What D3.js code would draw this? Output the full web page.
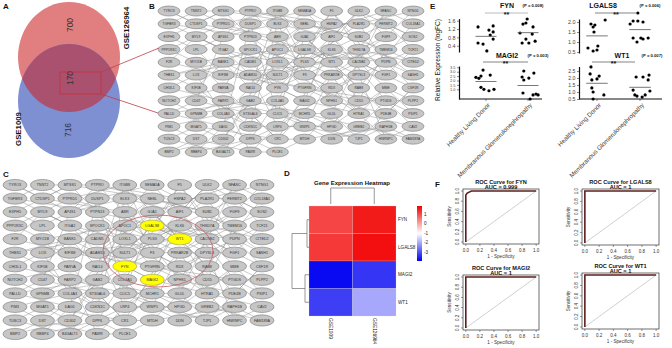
<!DOCTYPE html>
<html><head><meta charset="utf-8">
<script src="https://cdn.jsdelivr.net/npm/d3@7"></script>
<style>body{margin:0;background:#fff}svg{display:block;font-family:"Liberation Sans",Arial,sans-serif}</style>
</head><body><svg id="c" width="672" height="348"></svg>
<script>
// ---------------- DATA ----------------
const vennSets = ["GSE126964", "GSE1009"];
const vennCounts = [700, 170, 716]; // GSE126964 only, shared, GSE1009 only

const netColumns = [
 ["TYRO3","TGFBR3","EXPH5","PPP1R3C","F2R","THBS1","CHI3L1","NOTCH2","PALLD","PIM1","TUSC3","BMP2"],
 ["TNNT2","CTDSP1","MYL9","LPL","MYO1B","LOX","KIF5B","CD47","GPNMB","MGAT5","DST","RBBP4"],
 ["MTSS1","PTPRD1","AP4S1","ITGA2","BANK1","EIF3M","PARVA","FARP2","COL4A3","DAG1","CD302","B4GALT1"],
 ["PTPRO","DUSP1","PTPN13","SPOCK1","CADM1","ADAM10","RAI14","GAB2","ST3GAL6","CDKN1C","DPP6","PAWR"],
 ["ITGB8","ELK3","ABR","APOC1","LOXL1","SULT1","FYN","COL4A5","CLIC5","LRP4","CR1","PLCE1"],
 ["SEMA5A","NEBL","GJA1","LGALS8","PLS3","F3","PTGFRN","MAGI2","MCHR1","WWP1","MTDH"],
 ["F5","HSPA2","AIF1","KLK6","WT1","PRKAR2B","RDX","NPHS1","GLUL","HPGD","DDN"],
 ["ULK2","PLA2R1","SUB1","THSD7A","CACNB2","DPYSL3","RAB8","CD55","HTRA1","GREB2","TJP1"],
 ["NFASC","FERMT2","FGF9","TMEM16","PDPN","FGF1","MME","PTGDS","PDE4B","RAPH1B","HNRNPC"],
 ["NTNG1","COL18A1","SOS2","TCF21","CITED2","SASH1","CSF1R","PLPP2","PSIP1","CAV2","FAM189A"]
];
const netEdges = ("a1b2 a1c3 a2b1 a2c4 a3b4 a4c2 a4b5 a5b3 a5c6 a6b7 a6c5 a7b6 a7c8 a8b9 a8c7 a9b8 a9c10 a10b11 a11b10 a11c12 a12b11 a12c11 a3c1 a6d5 a2d3 a9d8 a10c9 " +
 "b1c2 b2c1 b3c4 b4d2 b5c7 b6d4 b7c5 b8d9 b9c8 b10c11 b11d12 b12c10 b1d1 b3d5 b5e4 b7d10 b9e8 b2e3 b6c9 b10e11 b12d11 b4c6 b8c3 b11e7 " +
 "c1d3 c2e1 c3d1 c4e5 c5d7 c6e6 c7d4 c8e9 c9d10 c10e12 c11d8 c12e10 c1f2 c3e2 c4d6 c6f7 c7e11 c8d12 c9f3 c10d2 c11e4 c12d9 c2f4 c5f8 c6g5 " +
 "d1e3 d2f1 d3e6 d4f5 d5e7 d6f3 d7e1 d8f9 d9e11 d10f10 d11e8 d12e12 d1g2 d2e9 d3f6 d4g7 d5f2 d6e10 d7g4 d8e5 d9g9 d10e2 d11f11 d12f8 d3h5 d6h8 d1h3 " +
 "e1f5 e2g3 e3f1 e4g6 e5f7 e6h4 e7f8 e8g1 e9f3 e10g10 e11f9 e12f11 e1h7 e2f6 e3g8 e4f2 e5h9 e6g2 e7h1 e8f10 e9g11 e10h6 e11g4 e4i5 e7i3 e9h11 e6f4 e5g5 " +
 "f1g2 f2h3 f3g5 f4h6 f5g4 f6h1 f7g8 f8h9 f9g10 f10h11 f11g9 f1h5 f2i4 f3h7 f4g1 f5h2 f6g7 f7i8 f8g3 f9h10 f10g6 f11i10 f4g5 f8g6 f6i6 f3i1 " +
 "g1h4 g2i2 g3h1 g4i5 g5h8 g6i3 g7h6 g8i9 g9h11 g10i7 g11h10 g1i6 g2h2 g3i8 g4h3 g5i4 g6h9 g7i11 g8h5 g9i1 g10h7 g11i10 g4j7 g6j3 " +
 "h1i3 h2j1 h3i2 h4j5 h5i6 h6j4 h7i9 h8j8 h9i7 h10j11 h11i10 h1j3 h2i5 h3j6 h4i1 h5j9 h6i11 h7j2 h8i4 h9j10 h10i8 h11j7 " +
 "i1j2 i2j3 i3j1 i4j5 i5j6 i6j4 i7j8 i8j9 i9j7 i10j11 i11j10 i2j4 i5j7 i8j10").split(" ");
const hubGenes = ["FYN", "LGALS8", "MAGI2", "WT1"];

const hmGenes = ["FYN", "LGALS8", "MAGI2", "WT1"];
const hmSets = ["GSE1009", "GSE126964"];
const hmGSE1009 = [1.08, 1.22, -3.8, -3.2];
const hmGSE126964 = [1.56, 1.68, -3.3, -2.0];
const hmTicks = [1, 0, -1, -2, -3];

const groups = ["Healthy Living Donor", "Membranous Glomerulonephropathy"];
const fynHLD = [1.30, 1.35, 1.15, 1.06, 0.91, 0.72, 0.53, 0.48, 0.15];
const fynHLDj = [-0.19, 0.17, 0.07, 0.17, 0.10, 0.17, -0.19, -0.07, 0.02];
const fynMGN = [1.44, 1.68, 1.49, 1.30, 1.01, 0.96, 0.72, 0.53, 0.62, 0.53];
const fynMGNj = [-0.12, -0.02, -0.05, 0.12, -0.19, 0.10, -0.05, 0.02, 0.17, -0.14];
const magi2HLD = [3.19, 2.36, 2.51, 2.62, 2.25, 1.23, 1.00, 0.84, 1.00];
const magi2HLDj = [-0.07, -0.24, -0.12, 0.10, -0.17, -0.12, -0.05, 0.07, 0.19];
const magi2MGN = [3.08, 2.85, 2.40, 2.28, 2.06, 0.58, 0.36, 0.47, 0.36, -0.10];
const magi2MGNj = [-0.10, 0.14, -0.14, 0.02, -0.10, -0.12, 0.12, 0.19, 0.24, 0.05];
const lgals8HLD = [1.90, 2.10, 1.85, 1.75, 1.50, 0.70, 0.55, 0.60, 0.80];
const lgals8HLDj = [-0.14, 0.19, -0.05, -0.09, -0.07, -0.21, -0.09, 0.00, 0.02];
const lgals8MGN = [2.45, 2.05, 2.05, 2.00, 1.90, 1.20, 1.20, 1.15, 1.20, 1.00];
const lgals8MGNj = [-0.05, -0.16, -0.05, 0.07, -0.23, -0.16, 0.02, 0.07, 0.19, -0.07];
const wt1HLD = [2.79, 2.29, 2.14, 1.93, 1.86, 1.29, 1.00, 0.79, 0.50];
const wt1HLDj = [-0.14, -0.16, 0.05, 0.00, -0.12, -0.12, -0.09, 0.16, -0.09];
const wt1MGN = [2.07, 2.07, 2.21, 1.86, 1.14, 0.79, 0.64, 0.79, 1.07, 0.71];
const wt1MGNj = [-0.09, 0.07, 0.21, 0.19, -0.16, -0.12, 0.05, 0.12, 0.23, -0.07];
const pValues = ["0.008", "0.003", "0.006", "0.007"]; // FYN, MAGI2, LGALS8, WT1

const rocGenes = ["FYN", "LGALS8", "MAGI2", "WT1"];
const rocAUC = ["0.999", "1", "1", "1"];
const rocFYN = [[0, 0], [0, 0.92], [0.02, 0.96], [0.08, 1], [1, 1]];
const rocLGALS8 = [[0, 0], [0, 1], [1, 1]];
const rocMAGI2 = [[0, 0], [0, 1], [1, 1]];
const rocWT1 = [[0, 0], [0, 1], [1, 1]];
const rocTicks = [0, 0.2, 0.4, 0.6, 0.8, 1];

// ---------------- DRAWING ----------------
const svg = d3.select("#c");
svg.append("rect").attr("width", 672).attr("height", 348).attr("fill", "#fff");
const defs = svg.append("defs");

function letter(t, x, y) {
  svg.append("text").attr("x", x).attr("y", y).attr("font-size", 8).attr("font-weight", "bold").attr("fill", "#111").text(t);
}
letter("A", 3, 9); letter("B", 149, 9); letter("C", 3, 177); letter("D", 284, 176); letter("E", 430, 9); letter("F", 435, 187);

// ---- A: Venn ----
const red = {cx: 69, cy: 57, rx: 51, ry: 55};
const blue = {cx: 69, cy: 101, rx: 51, ry: 57};
defs.append("clipPath").attr("id", "clipBlue").append("ellipse").attr("cx", blue.cx).attr("cy", blue.cy).attr("rx", blue.rx).attr("ry", blue.ry);
const gA = svg.append("g");
gA.append("ellipse").attr("cx", red.cx).attr("cy", red.cy).attr("rx", red.rx).attr("ry", red.ry).attr("fill", "#e17f80");
gA.append("ellipse").attr("cx", blue.cx).attr("cy", blue.cy).attr("rx", blue.rx).attr("ry", blue.ry).attr("fill", "#7e8fd2");
gA.append("ellipse").attr("cx", red.cx).attr("cy", red.cy).attr("rx", red.rx).attr("ry", red.ry).attr("fill", "#a9516f").attr("clip-path", "url(#clipBlue)");
const vennPos = [[70, 25], [70, 78], [68, 130]];
vennCounts.forEach((c, i) => {
  gA.append("text").attr("transform", `translate(${vennPos[i][0]},${vennPos[i][1]}) rotate(-90)`)
    .attr("text-anchor", "middle").attr("dy", "0.35em").attr("font-size", 8.5).attr("fill", "#333").text(c);
});
gA.append("text").attr("transform", "translate(126,28) rotate(-90)").attr("text-anchor", "middle").attr("dy", "0.35em")
  .attr("font-size", 7.8).attr("font-weight", "bold").attr("fill", "#111").text(vennSets[0]);
gA.append("text").attr("transform", "translate(18,129) rotate(-90)").attr("text-anchor", "middle").attr("dy", "0.35em")
  .attr("font-size", 7.8).attr("font-weight", "bold").attr("fill", "#111").text(vennSets[1]);
gA.append("rect").attr("x", 60).attr("y", 72).attr("width", 41).attr("height", 22).attr("fill", "none").attr("stroke", "#c8303e").attr("stroke-width", 0.8);

// ---- network ----
function drawNet(g, xr, yr, rx, ry, fs, highlight) {
  const x = d3.scalePoint().domain(d3.range(10)).range(xr);
  const y = d3.scalePoint().domain(d3.range(12)).range(yr);
  const pos = (c, r) => [x(c.charCodeAt(0) - 97), y(+r - 1)];
  const eg = g.append("g").attr("stroke", "#8a8a8a").attr("stroke-width", 0.45).attr("fill", "none");
  netEdges.forEach(e => {
    const m = e.match(/^([a-j])(\d+)([a-j])(\d+)$/);
    if (!m) return;
    const c1 = m[1].charCodeAt(0) - 97, c2 = m[3].charCodeAt(0) - 97;
    if (+m[2] > netColumns[c1].length || +m[4] > netColumns[c2].length) return;
    const p1 = pos(m[1], m[2]), p2 = pos(m[3], m[4]);
    eg.append("line").attr("x1", p1[0]).attr("y1", p1[1]).attr("x2", p2[0]).attr("y2", p2[1]);
  });
  netColumns.forEach((col, ci) => col.forEach((name, ri) => {
    const hl = highlight && hubGenes.includes(name);
    g.append("ellipse").attr("cx", x(ci)).attr("cy", y(ri)).attr("rx", rx).attr("ry", ry)
      .attr("fill", hl ? "#ffff00" : "#c6c6c6").attr("stroke", hl ? "#9a9a50" : "#7a7a7a").attr("stroke-width", 0.6);
    g.append("text").attr("x", x(ci)).attr("y", y(ri)).attr("dy", "0.35em").attr("text-anchor", "middle")
      .attr("font-size", fs).attr("fill", "#333").text(name);
  }));
}
drawNet(svg.append("g"), [169, 413], [11, 152], 11, 5, 3.3, false);
const gC = svg.append("g");
drawNet(gC, [15, 262], [185, 334], 12, 5.6, 3.7, true);
gC.append("ellipse").attr("cx", 158).attr("cy", 251).attr("rx", 55).attr("ry", 36).attr("fill", "none").attr("stroke", "#c0606a").attr("stroke-width", 0.8);

// connectors from venn box to network B
svg.append("line").attr("x1", 101).attr("y1", 72).attr("x2", 159).attr("y2", 48).attr("stroke", "#b8404e").attr("stroke-width", 0.8);
svg.append("line").attr("x1", 101).attr("y1", 94).attr("x2", 158).attr("y2", 113).attr("stroke", "#b8404e").attr("stroke-width", 0.8);

// ---- D: heatmap ----
const gD = svg.append("g");
const hx = d3.scaleBand().domain(hmSets).range([309, 396]);
const hy = d3.scaleBand().domain(hmGenes).range([206, 316]);
const hcol = d3.scaleLinear().domain([-3.9, -1, 1.85]).range(["#0000f2", "#ffffff", "#f20000"]);
const hmVals = {GSE1009: hmGSE1009, GSE126964: hmGSE126964};
hmSets.forEach(s => hmGenes.forEach((gname, i) => {
  gD.append("rect").attr("x", hx(s)).attr("y", hy(gname)).attr("width", hx.bandwidth()).attr("height", hy.bandwidth())
    .attr("fill", hcol(hmVals[s][i])).attr("stroke", "rgba(210,210,210,0.45)").attr("stroke-width", 0.5);
}));
gD.append("text").attr("x", 352).attr("y", 185).attr("text-anchor", "middle").attr("font-size", 6).attr("font-weight", "bold").attr("fill", "#111").text("Gene Expression Heatmap");
hmGenes.forEach(gname => gD.append("text").attr("x", 398).attr("y", hy(gname) + hy.bandwidth() / 2).attr("dy", "0.35em").attr("font-size", 4.6).attr("fill", "#222").text(gname));
hmSets.forEach(s => gD.append("text").attr("transform", `translate(${hx(s) + hx.bandwidth() / 2},318) rotate(90)`).attr("dy", "0.35em").attr("font-size", 4.8).attr("fill", "#222").text(s));
// column dendrogram
const dl = gD.append("g").attr("stroke", "#555").attr("stroke-width", 0.6).attr("fill", "none");
const c1 = hx(hmSets[0]) + hx.bandwidth() / 2, c2 = hx(hmSets[1]) + hx.bandwidth() / 2;
dl.append("path").attr("d", `M${c1},204V188H${c2}V204`);
// row dendrogram
const yc = gname => hy(gname) + hy.bandwidth() / 2;
dl.append("path").attr("d", `M309,${yc("FYN")}H307V${yc("LGALS8")}H309`);
dl.append("path").attr("d", `M309,${yc("MAGI2")}H305V${yc("WT1")}H309`);
const t1 = (yc("FYN") + yc("LGALS8")) / 2, t2 = (yc("MAGI2") + yc("WT1")) / 2;
dl.append("path").attr("d", `M307,${t1}H292V${t2}H305`);
// colorbar
const cb = d3.scaleLinear().domain([-3.9, 1.85]).range([261, 206]);
const grad = defs.append("linearGradient").attr("id", "cbg").attr("x1", 0).attr("y1", 1).attr("x2", 0).attr("y2", 0);
d3.range(0, 1.0001, 0.05).forEach(t => grad.append("stop").attr("offset", t).attr("stop-color", hcol(-3.9 + t * 5.75)));
gD.append("rect").attr("x", 417).attr("y", 206).attr("width", 5).attr("height", 55).attr("fill", "url(#cbg)");
hmTicks.forEach(t => gD.append("text").attr("x", 424).attr("y", cb(t)).attr("dy", "0.35em").attr("font-size", 4.6).attr("fill", "#222").text(t));

// ---- E: dot plots ----
const gE = svg.append("g");
const ePlots = [
  {gene: "FYN", p: pValues[0], v: [fynHLD, fynMGN], j: [fynHLDj, fynMGNj], ax: 459, cx: [486, 528], xEnd: 542, yd: [0.1, 1.7], yr: [52, 18.6], ticks: [0.4, 0.8, 1.2, 1.6], tfs: 5.4, bottom: false, tx: 507, ty: 8, px: 533, sig: [485, 528, 13], sc: "#aaa"},
  {gene: "MAGI2", p: pValues[1], v: [magi2HLD, magi2MGN], j: [magi2HLDj, magi2MGNj], ax: 459, cx: [486, 528], xEnd: 542, yd: [-0.1, 3.65], yr: [99, 66], ticks: [1, 1.5, 2, 2.5, 3, 3.5], tfs: 3.9, bottom: true, tx: 507, ty: 58, px: 538, sig: [483, 528, 62], sc: "#666"},
  {gene: "LGALS8", p: pValues[2], v: [lgals8HLD, lgals8MGN], j: [lgals8HLDj, lgals8MGNj], ax: 579, cx: [597, 640], xEnd: 662, yd: [0.45, 2.15], yr: [53, 19], ticks: [0.5, 1, 1.5, 2], tfs: 5.4, bottom: false, tx: 603, ty: 8, px: 650, sig: [595, 637, 13], sc: "#666"},
  {gene: "WT1", p: pValues[3], v: [wt1HLD, wt1MGN], j: [wt1HLDj, wt1MGNj], ax: 579, cx: [597, 640], xEnd: 662, yd: [0.5, 2.82], yr: [99, 66.5], ticks: [0.5, 1, 1.5, 2, 2.5], tfs: 5.2, bottom: true, tx: 622, ty: 58, px: 652, sig: [592, 635, 62], sc: "#666"}
];
ePlots.forEach(P => {
  const g = gE.append("g");
  const x = d3.scaleLinear().domain([0, 1]).range(P.cx);
  const y = d3.scaleLinear().domain(P.yd).range(P.yr);
  const ya = g.append("g").attr("transform", `translate(${P.ax},0)`)
    .call(d3.axisLeft(y).tickValues(P.ticks).tickSize(2).tickSizeOuter(0).tickPadding(1.5).tickFormat(d3.format(".1f")));
  ya.select(".domain").attr("stroke", "#111").attr("stroke-width", 1.2);
  ya.selectAll(".tick line").attr("stroke", "#333").attr("stroke-width", 0.6);
  ya.selectAll(".tick text").attr("font-size", P.tfs).attr("fill", "#444").attr("font-family", "Liberation Sans, Arial, sans-serif");
  if (P.bottom) {
    g.append("line").attr("x1", P.ax).attr("x2", P.xEnd).attr("y1", P.yr[0]).attr("y2", P.yr[0]).attr("stroke", "#111").attr("stroke-width", 1.2);
    groups.forEach((gr, i) => {
      g.append("line").attr("x1", x(i)).attr("x2", x(i)).attr("y1", P.yr[0]).attr("y2", P.yr[0] + 2).attr("stroke", "#333").attr("stroke-width", 0.6);
      g.append("text").attr("transform", `translate(${x(i) + 3},${P.yr[0] + 5}) rotate(-45)`).attr("text-anchor", "end")
        .attr("dy", "0.35em").attr("font-size", 6.3).attr("fill", "#444").text(gr);
    });
  }
  P.v.forEach((vals, gi) => {
    vals.forEach((v, k) => g.append("circle").attr("cx", x(gi + P.j[gi][k])).attr("cy", y(v)).attr("r", 1.6).attr("fill", "#000"));
    const m = d3.mean(vals);
    g.append("line").attr("x1", x(gi - 0.25)).attr("x2", x(gi + 0.25)).attr("y1", y(m)).attr("y2", y(m)).attr("stroke", "#555").attr("stroke-width", 0.8);
  });
  g.append("text").attr("x", P.tx).attr("y", P.ty).attr("text-anchor", "middle").attr("font-size", 7).attr("font-weight", "bold").attr("fill", "#111").text(P.gene);
  g.append("text").attr("x", P.px).attr("y", P.ty - 1).attr("text-anchor", "middle").attr("font-size", 4.2).attr("font-weight", "bold").attr("fill", "#111").text(`(P = ${P.p})`);
  g.append("line").attr("x1", P.sig[0]).attr("x2", P.sig[1]).attr("y1", P.sig[2]).attr("y2", P.sig[2]).attr("stroke", P.sc).attr("stroke-width", 0.8);
  g.append("text").attr("x", (P.sig[0] + P.sig[1]) / 2).attr("y", P.sig[2] + 4).attr("text-anchor", "middle").attr("font-size", 7).attr("font-weight", "bold").attr("fill", "#111").text("**");
});
gE.append("text").attr("transform", "translate(438,60) rotate(-90)").attr("text-anchor", "middle").attr("dy", "0.35em")
  .attr("font-size", 6.6).attr("fill", "#222").text("Relative Expression (logFC)");

// ---- F: ROC ----
const gF = svg.append("g");
const rocData = [rocFYN, rocLGALS8, rocMAGI2, rocWT1];
const rocBoxes = [[463, 539, 189, 244], [582, 659, 189, 245], [463, 539, 275, 330], [582, 659, 273, 329]];
rocGenes.forEach((gene, i) => {
  const [x0, x1, y0, y1] = rocBoxes[i];
  const g = gF.append("g");
  const x = d3.scaleLinear().domain([-0.04, 1.04]).range([x0, x1]);
  const y = d3.scaleLinear().domain([-0.04, 1.04]).range([y1, y0]);
  g.append("line").attr("x1", x(0)).attr("y1", y(0)).attr("x2", x(1)).attr("y2", y(1)).attr("stroke", "#c4c4c4").attr("stroke-width", 0.8);
  g.append("path").attr("d", d3.line().x(d => x(d[0])).y(d => y(d[1]))(rocData[i])).attr("fill", "none").attr("stroke", "#5c1f1f").attr("stroke-width", 1.6);
  g.append("rect").attr("x", x0).attr("y", y0).attr("width", x1 - x0).attr("height", y1 - y0).attr("fill", "none").attr("stroke", "#333").attr("stroke-width", 0.7);
  rocTicks.forEach(t => {
    g.append("line").attr("x1", x(t)).attr("x2", x(t)).attr("y1", y1).attr("y2", y1 + 2).attr("stroke", "#333").attr("stroke-width", 0.5);
    g.append("text").attr("x", x(t)).attr("y", y1 + 7.5).attr("text-anchor", "middle").attr("font-size", 4.5).attr("fill", "#333").text(d3.format(".1f")(t));
    g.append("line").attr("x1", x0 - 2).attr("x2", x0).attr("y1", y(t)).attr("y2", y(t)).attr("stroke", "#333").attr("stroke-width", 0.5);
    g.append("text").attr("transform", `translate(${x0 - 4.5},${y(t)}) rotate(-90)`).attr("text-anchor", "middle").attr("font-size", 4.5).attr("fill", "#333").text(d3.format(".1f")(t));
  });
  g.append("text").attr("x", (x0 + x1) / 2).attr("y", y1 + 14).attr("text-anchor", "middle").attr("font-size", 4.6).attr("fill", "#333").text("1 - Specificity");
  g.append("text").attr("transform", `translate(${x0 - 12},${(y0 + y1) / 2}) rotate(-90)`).attr("text-anchor", "middle").attr("font-size", 4.6).attr("fill", "#333").text("Sensitivity");
  g.append("text").attr("x", (x0 + x1) / 2).attr("y", y0 - 5.5).attr("text-anchor", "middle").attr("font-size", 5.6).attr("font-weight", "bold").attr("fill", "#111").text(`ROC Curve for ${gene}`);
  g.append("text").attr("x", (x0 + x1) / 2).attr("y", y0 - 0.3).attr("text-anchor", "middle").attr("font-size", 5.6).attr("font-weight", "bold").attr("fill", "#111").text(`AUC = ${rocAUC[i]}`);
});
</script></body></html>
